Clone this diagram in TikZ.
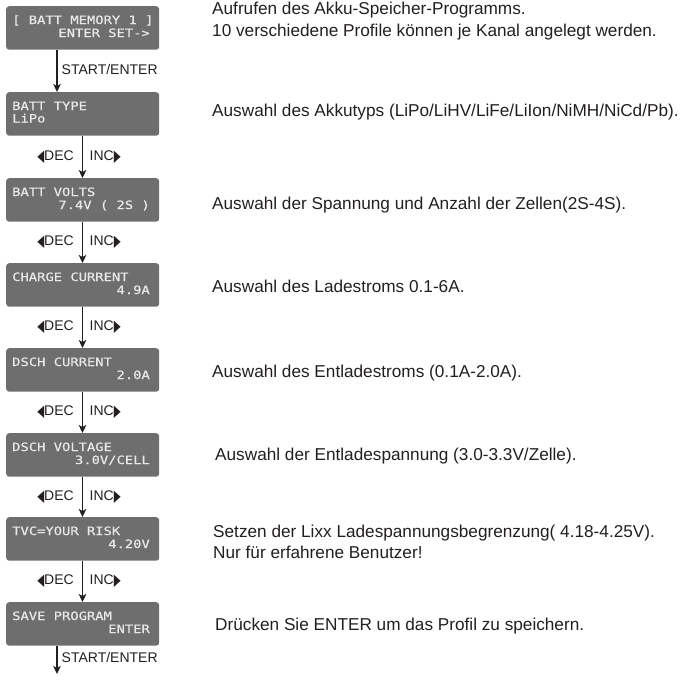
\documentclass[tikz,border=0pt]{standalone}
\usepackage{fontspec}
\setmainfont{Liberation Sans}
\newfontfamily\lcdfont[FakeStretch=1.2,FakeBold=0.6]{DejaVu Sans Mono}
\newfontfamily\symfont{DejaVu Sans}
\usetikzlibrary{arrows.meta}
\definecolor{lcdgray}{HTML}{6E6E6E}
\definecolor{lcdtext}{HTML}{E8E8E8}
\definecolor{ink}{HTML}{231F20}
\newcommand{\ltri}{{\symfont\fontsize{18}{18}\selectfont\raisebox{-1pt}{\scalebox{0.5}[0.9]{◀}}}}
\newcommand{\rtri}{{\symfont\fontsize{18}{18}\selectfont\raisebox{-1pt}{\scalebox{0.5}[0.9]{▶}}}}
\begin{document}
\begin{tikzpicture}[x=1pt,y=-1pt,
  lcdbox/.style={fill=lcdgray, rounded corners=3pt, minimum width=153pt, minimum height=43.5pt, inner sep=0pt, anchor=north west},
  lcdl/.style={text=lcdtext, font=\lcdfont\fontsize{11.5}{12}\selectfont, inner sep=0pt, anchor=base west},
  lcdr/.style={text=lcdtext, font=\lcdfont\fontsize{11.5}{12}\selectfont, inner sep=0pt, anchor=base east},
  desc/.style={text=ink, font=\fontsize{17.2}{20}\selectfont, inner sep=0pt, anchor=base west},
  lbl/.style={text=ink, font=\fontsize{14}{14}\selectfont, inner sep=0pt},
  arr/.style={draw=ink, line width=1.6pt, -{Stealth[length=8pt,width=7.5pt,inset=2pt]}}
]
\useasboundingbox (0,0) rectangle (691,681);

% guide coordinates for connector x positions
\coordinate (xa) at (57,0);
\coordinate (xb) at (82.5,0);

% LCD boxes
\node[lcdbox] (b1) at (6,6) {};
\node[lcdl] (b1a) at (12,24) {[ BATT MEMORY 1 ]};
\node[lcdr] (b1b) at (150,37) {ENTER SET->};

\node[lcdbox] (b2) at (6,92) {};
\node[lcdl] (b2a) at (12,110) {BATT TYPE};
\node[lcdl] (b2b) at (12,122.5) {LiPo};

\node[lcdbox] (b3) at (6,178) {};
\node[lcdl] (b3a) at (12,196) {BATT VOLTS};
\node[lcdr] (b3b) at (150,209) {7.4V ( 2S )};

\node[lcdbox] (b4) at (6,263) {};
\node[lcdl] (b4a) at (12,281) {CHARGE CURRENT};
\node[lcdr] (b4b) at (150,294) {4.9A};

\node[lcdbox] (b5) at (6,348) {};
\node[lcdl] (b5a) at (12,366) {DSCH CURRENT};
\node[lcdr] (b5b) at (150,379) {2.0A};

\node[lcdbox] (b6) at (6,433) {};
\node[lcdl] (b6a) at (12,451) {DSCH VOLTAGE};
\node[lcdr] (b6b) at (150,464) {3.0V/CELL};

\node[lcdbox] (b7) at (6,517) {};
\node[lcdl] (b7a) at (12,535) {TVC=YOUR RISK};
\node[lcdr] (b7b) at (150,548) {4.20V};

\node[lcdbox] (b8) at (6,602) {};
\node[lcdl] (b8a) at (12,620) {SAVE PROGRAM};
\node[lcdr] (b8b) at (150,633) {ENTER};

\coordinate (endpt) at (57,674);

% connectors
\draw[arr] (b1.south -| xa) -- (b2.north -| xa);
\draw[arr] (b2.south -| xb) -- (b3.north -| xb);
\draw[arr] (b3.south -| xb) -- (b4.north -| xb);
\draw[arr] (b4.south -| xb) -- (b5.north -| xb);
\draw[arr] (b5.south -| xb) -- (b6.north -| xb);
\draw[arr] (b6.south -| xb) -- (b7.north -| xb);
\draw[arr] (b7.south -| xb) -- (b8.north -| xb);
\draw[arr] (b8.south -| xa) -- (endpt);

% connector labels
\node[lbl, anchor=base west] (l1) at (61.5,74.5) {START/ENTER};
\node[lbl, anchor=base west] (l8) at (61.5,662) {START/ENTER};
\foreach \y/\n in {160/2,245.5/3,330.5/4,415.5/5,500/6,584.5/7}{
  \node[lbl, anchor=base east] (dec\n) at (74,\y) {\ltri DEC};
  \node[lbl, anchor=base west] (inc\n) at (89.5,\y) {INC\rtri};
}

% descriptions
\node[desc] (d1a) at (212,14.5) {Aufrufen des Akku-Speicher-Programms.};
\node[desc] (d1b) at (212,36) {10 verschiedene Profile können je Kanal angelegt werden.};
\node[desc] (d2) at (212,116) {Auswahl des Akkutyps (LiPo/LiHV/LiFe/LiIon/NiMH/NiCd/Pb).};
\node[desc] (d3) at (212,209) {Auswahl der Spannung und Anzahl der Zellen(2S-4S).};
\node[desc] (d4) at (212,292) {Auswahl des Ladestroms 0.1-6A.};
\node[desc] (d5) at (212,377) {Auswahl des Entladestroms (0.1A-2.0A).};
\node[desc] (d6) at (215,460.5) {Auswahl der Entladespannung (3.0-3.3V/Zelle).};
\node[desc] (d7a) at (213,537) {Setzen der Lixx Ladespannungsbegrenzung( 4.18-4.25V).};
\node[desc] (d7b) at (213,558) {Nur für erfahrene Benutzer!};
\node[desc] (d8) at (215,630.5) {Drücken Sie ENTER um das Profil zu speichern.};
\end{tikzpicture}
\end{document}
